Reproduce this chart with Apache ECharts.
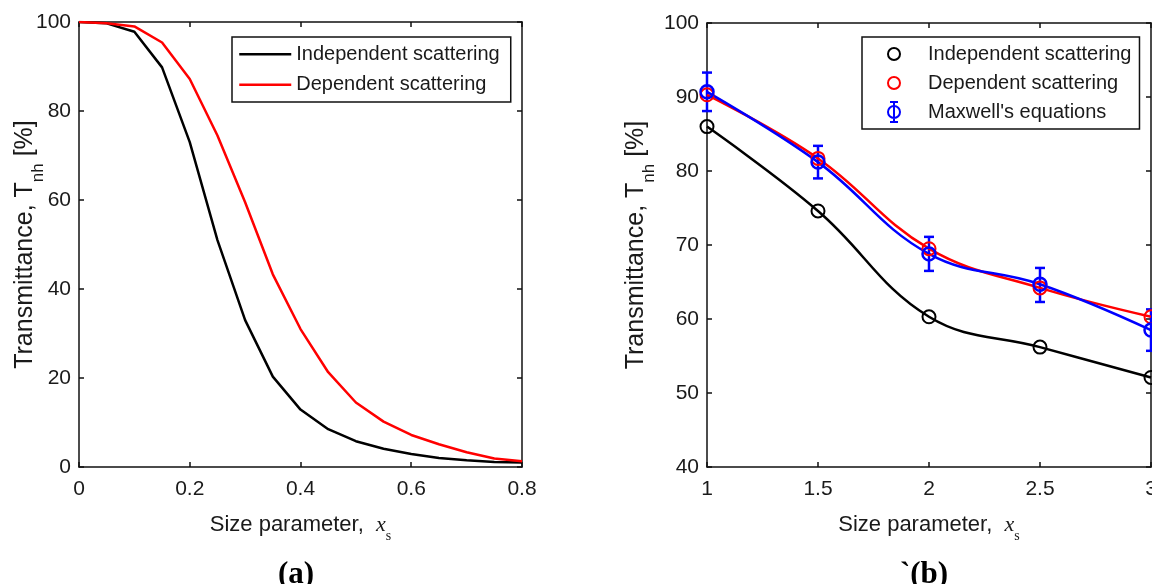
<!DOCTYPE html>
<html><head><meta charset="utf-8">
<script src="https://cdn.jsdelivr.net/npm/echarts@6/dist/echarts.min.js"></script>
<style>html,body{margin:0;padding:0;background:#fff}#c{width:1152px;height:584px}</style>
</head><body><div id="c"></div><script>
// ---- Panel (a) data ----
const leftX = [0, 0.05, 0.1, 0.15, 0.2, 0.25, 0.3, 0.35, 0.4, 0.45, 0.5, 0.55, 0.6, 0.65, 0.7, 0.75, 0.8];
const leftIndependent = [100, 99.7, 97.8, 89.8, 73, 51, 33, 20.3, 12.9, 8.5, 5.8, 4.1, 2.9, 2.0, 1.5, 1.1, 1.0];
const leftDependent = [100, 99.7, 99.0, 95.4, 87.2, 74.5, 59.5, 43.3, 31.0, 21.3, 14.5, 10.2, 7.2, 5.1, 3.3, 1.9, 1.3];
// ---- Panel (b) data ----
const rightX = [1, 1.5, 2, 2.5, 3];
const rightIndependent = [86.0, 74.6, 60.3, 56.2, 52.1];
const rightDependent = [90.3, 81.7, 69.5, 64.2, 60.3];
const rightMaxwell = [90.7, 81.2, 68.8, 64.7, 58.5];
const maxwellLow = [88.1, 79.0, 66.5, 62.3, 55.7];
const maxwellHigh = [93.3, 83.4, 71.1, 66.9, 61.3];
// ---- labels ----
const nameIndependent = 'Independent scattering';
const nameDependent = 'Dependent scattering';
const nameMaxwell = "Maxwell's equations";
const yTitle = 'Transmittance, T{sub|nh} [%]';
const xTitle = 'Size parameter,  {it|x}{sub|s}';
const panelLabels = ['(a)', '`(b)'];

const SANS = 'Liberation Sans';
const SERIF = 'Liberation Serif';
const TXT = '#1a1a1a';

const pair = (xs, ys) => xs.map((x, i) => [x, ys[i]]);

function axisBase(gridIndex, min, max, interval, pos, showLabel) {
  return {
    type: 'value', gridIndex, min, max, interval, position: pos,
    axisLine: { show: true, onZero: false, lineStyle: { color: '#111', width: 1.5 } },
    axisTick: { show: true, inside: true, length: 5, lineStyle: { color: '#111', width: 1.5 } },
    axisLabel: { show: showLabel, fontSize: 21, color: TXT, fontFamily: SANS },
    splitLine: { show: false }
  };
}
const xNameCfg = {
  name: xTitle, nameLocation: 'middle', nameGap: 40, nameMoveOverlap: false,
  nameTextStyle: {
    fontSize: 22, color: TXT, fontFamily: SANS, lineHeight: 30,
    rich: {
      it: { fontSize: 22, fontFamily: SERIF, fontStyle: 'italic', color: TXT, lineHeight: 30 },
      sub: { fontSize: 14, fontFamily: SERIF, color: TXT, verticalAlign: 'bottom', lineHeight: 36 }
    }
  }
};
function yNameCfg(gap) {
  return {
    name: yTitle, nameLocation: 'middle', nameGap: gap, nameMoveOverlap: false,
    nameTextStyle: {
      fontSize: 25, color: TXT, fontFamily: SANS, lineHeight: 32,
      rich: {
        sub: { fontSize: 17, fontFamily: SANS, color: TXT, verticalAlign: 'bottom', lineHeight: 44 }
      }
    }
  };
}
const tickLabelX = { fontSize: 21, color: TXT, fontFamily: SANS, margin: 12 };
const tickLabelY = { fontSize: 21, color: TXT, fontFamily: SANS, margin: 8 };

const xAxes = [
  Object.assign(axisBase(0, 0, 0.8, 0.2, 'bottom', true), xNameCfg, { axisLabel: tickLabelX }),
  axisBase(0, 0, 0.8, 0.2, 'top', false),
  Object.assign(axisBase(1, 1, 3, 0.5, 'bottom', true), xNameCfg, { axisLabel: tickLabelX }),
  axisBase(1, 1, 3, 0.5, 'top', false)
];
const yAxes = [
  Object.assign(axisBase(0, 0, 100, 20, 'left', true), yNameCfg(32), { axisLabel: tickLabelY }),
  axisBase(0, 0, 100, 20, 'right', false),
  Object.assign(axisBase(1, 40, 100, 10, 'left', true), yNameCfg(49), { axisLabel: tickLabelY }),
  axisBase(1, 40, 100, 10, 'right', false)
];

// icons fill the whole 56x20 legend item box so their placement is fixed
const circleIcon = 'path://M0,0 M56,20 M21,10 A6,6 0 1,1 33,10 A6,6 0 1,1 21,10 Z';
const errIcon = 'path://M0,0 M56,20 M21,10 A6,6 0 1,1 33,10 A6,6 0 1,1 21,10 Z M27,0 L27,20 M23,0 L31,0 M23,20 L31,20';
const lineIcon = 'path://M0,10 L52,10 M0,0 M52,20';

function errorBarRender(params, api) {
  const x = api.value(0), lo = api.value(1), hi = api.value(2);
  const p1 = api.coord([x, lo]), p2 = api.coord([x, hi]);
  const w = 5;
  const st = { stroke: '#0000ff', lineWidth: 2.5 };
  return {
    type: 'group', children: [
      { type: 'line', shape: { x1: p1[0], y1: p1[1], x2: p2[0], y2: p2[1] }, style: st },
      { type: 'line', shape: { x1: p1[0] - w, y1: p1[1], x2: p1[0] + w, y2: p1[1] }, style: st },
      { type: 'line', shape: { x1: p2[0] - w, y1: p2[1], x2: p2[0] + w, y2: p2[1] }, style: st }
    ]
  };
}

const option = {
  animation: false,
  backgroundColor: '#fff',
  textStyle: { fontFamily: SANS },
  grid: [
    { left: 79, right: 630, top: 22, bottom: 117, outerBoundsMode: 'none', containLabel: false },
    { left: 707, right: 1, top: 23, bottom: 117, outerBoundsMode: 'none', containLabel: false }
  ],
  xAxis: xAxes,
  yAxis: yAxes,
  legend: [
    {
      left: 232, top: 37, orient: 'vertical', padding: [6, 11, 6, 6],
      itemWidth: 52, itemHeight: 20, itemGap: 8,
      borderColor: '#111', borderWidth: 1.5, backgroundColor: '#fff',
      textStyle: { fontSize: 20, color: TXT, fontFamily: SANS },
      data: [
        { name: nameIndependent, icon: lineIcon, itemStyle: { color: 'rgba(0,0,0,0)', borderColor: '#000', borderWidth: 2.5 } },
        { name: nameDependent, icon: lineIcon, itemStyle: { color: 'rgba(0,0,0,0)', borderColor: '#ff0000', borderWidth: 2.5 } }
      ]
    },
    {
      left: 862, top: 37, orient: 'vertical', padding: [6, 8, 6, 4],
      itemWidth: 56, itemHeight: 20, itemGap: 7,
      borderColor: '#111', borderWidth: 1.5, backgroundColor: '#fff',
      textStyle: { fontSize: 20, color: TXT, fontFamily: SANS },
      data: [
        { name: nameIndependent, icon: circleIcon, itemStyle: { color: 'rgba(0,0,0,0)', borderColor: '#000', borderWidth: 2 } },
        { name: nameDependent, icon: circleIcon, itemStyle: { color: 'rgba(0,0,0,0)', borderColor: '#ff0000', borderWidth: 2 } },
        { name: nameMaxwell, icon: errIcon, itemStyle: { color: 'rgba(0,0,0,0)', borderColor: '#0000ff', borderWidth: 2 } }
      ]
    }
  ],
  title: [
    { text: panelLabels[0], left: 291, top: 554, textAlign: 'center', textStyle: { fontFamily: SERIF, fontWeight: 'bold', fontSize: 31, color: '#000' } },
    { text: panelLabels[1], left: 919, top: 554, textAlign: 'center', textStyle: { fontFamily: SERIF, fontWeight: 'bold', fontSize: 31, color: '#000' } }
  ],
  series: [
    { name: nameIndependent, type: 'line', xAxisIndex: 0, yAxisIndex: 0, data: pair(leftX, leftIndependent), symbol: 'none', lineStyle: { color: '#000', width: 2.5 }, itemStyle: { color: '#000' } },
    { name: nameDependent, type: 'line', xAxisIndex: 0, yAxisIndex: 0, data: pair(leftX, leftDependent), symbol: 'none', lineStyle: { color: '#ff0000', width: 2.5 }, itemStyle: { color: '#ff0000' } },
    { name: nameIndependent, type: 'line', xAxisIndex: 2, yAxisIndex: 2, data: pair(rightX, rightIndependent), smooth: 0.4, symbol: 'circle', symbolSize: 13, clip: false,
      lineStyle: { color: '#000', width: 2.5 }, itemStyle: { color: 'rgba(255,255,255,0)', borderColor: '#000', borderWidth: 2 } },
    { name: nameDependent, type: 'line', xAxisIndex: 2, yAxisIndex: 2, data: pair(rightX, rightDependent), smooth: 0.4, symbol: 'circle', symbolSize: 13, clip: false,
      lineStyle: { color: '#ff0000', width: 2.5 }, itemStyle: { color: 'rgba(255,255,255,0)', borderColor: '#ff0000', borderWidth: 2 } },
    { name: nameMaxwell, type: 'line', xAxisIndex: 2, yAxisIndex: 2, data: pair(rightX, rightMaxwell), smooth: 0.4, symbol: 'circle', symbolSize: 13, clip: false,
      lineStyle: { color: '#0000ff', width: 2.5 }, itemStyle: { color: 'rgba(255,255,255,0)', borderColor: '#0000ff', borderWidth: 2.5 } },
    { name: nameMaxwell, type: 'custom', xAxisIndex: 2, yAxisIndex: 2, renderItem: errorBarRender, clip: false,
      data: rightX.map((x, i) => [x, maxwellLow[i], maxwellHigh[i]]), encode: { x: 0, y: [1, 2] }, z: 3 }
  ]
};
const chart = echarts.init(document.getElementById('c'), null, { renderer: 'canvas' });
chart.setOption(option);
</script></body></html>
